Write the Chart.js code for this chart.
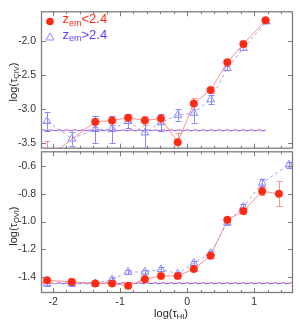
<!DOCTYPE html>
<html>
<head>
<meta charset="utf-8">
<script src="https://cdn.jsdelivr.net/npm/chart.js@4.4.1/dist/chart.umd.min.js"></script>
<style>
  html, body { margin: 0; padding: 0; background: #fff; }
  #wrap { position: relative; width: 300px; height: 327px; overflow: hidden; }
  #wrap canvas { position: absolute; left: 0; }
  #civChart { top: 0; }
  #oviChart { top: 140px; }
</style>
</head>
<body>
<div id="wrap">
  <canvas id="civChart" width="300" height="160"></canvas>
  <canvas id="oviChart" width="300" height="187"></canvas>
</div>
<script>
// tick labels
const xTicks = [-2, -1, 0, 1];
const civTicks = [-2.0, -2.5, -3.0, -3.5];
const oviTicks = [-0.6, -0.8, -1.0, -1.2, -1.4];

// top panel: log(tau_CIV) vs log(tau_HI)
const civLowX = [-2.09, -1.72, -1.37, -1.12, -0.88, -0.63, -0.39, -0.14, 0.10, 0.35, 0.60, 0.84, 1.17];
const civLowY = [-3.72, null, -3.19, -3.17, -3.13, -3.17, -3.14, -3.49, -2.92, -2.72, -2.31, -2.04, -1.69];
const civLowErr = [0.25, 0, 0.08, 0.06, 0.04, 0.06, 0.07, 0.14, 0.08, 0.04, 0.03, 0.03, 0.02];
const civHighX = [-2.4, -2.09, -1.72, -1.37, -1.12, -0.88, -0.63, -0.39, -0.14, 0.10, 0.35, 0.60, 0.84, 1.18];
const civHighY = [-3.33, -3.18, -3.44, -3.30, -3.30, -3.18, -3.35, -3.20, -3.09, -3.06, -2.86, -2.40, -2.10, -1.71];
const civHighErr = [0, 0.14, 0.10, 0.20, 0.20, 0.10, 0.22, 0.13, 0.09, 0.14, 0.07, 0.03, 0.03, 0.02];
const civRefX = [-2.18, 1.18];
const civLowRef = -3.31;
const civHighRef = -3.32;

// bottom panel: log(tau_OVI) vs log(tau_HI)
const oviLowX = [-2.09, -1.72, -1.37, -1.12, -0.88, -0.63, -0.39, -0.14, 0.10, 0.35, 0.60, 0.84, 1.12, 1.37];
const oviLowY = [-1.424, -1.436, -1.447, -1.447, -1.464, -1.416, -1.393, -1.393, -1.343, -1.247, -0.988, -0.924, -0.781, -0.800];
const oviLowErr = [0.01, 0.01, 0.01, 0.01, 0.01, 0.01, 0.012, 0.012, 0.015, 0.015, 0.015, 0.02, 0.03, 0.09];
const oviHighX = [-2.09, -1.72, -1.37, -1.12, -0.88, -0.63, -0.39, -0.14, 0.10, 0.35, 0.60, 0.84, 1.12, 1.52];
const oviHighY = [-1.447, -1.447, -1.447, -1.419, -1.364, -1.364, -1.345, -1.376, -1.300, -1.229, -1.007, -0.895, -0.721, -0.590];
const oviHighErr = [0.015, 0.015, 0.015, 0.015, 0.015, 0.015, 0.015, 0.015, 0.015, 0.015, 0.02, 0.02, 0.025, 0.02];
const oviRefX = [-2.18, 1.58];
const oviLowRef = -1.443;
const oviHighRef = -1.448;

const FONT = '"Liberation Sans", Arial, sans-serif';
const RED = "#ff2a14";
const RED_LINE = "#ff9090";
const BLUE = "#8a8aff";
const BLUE_LINE = "#a2a2ff";
const BLUE_TEXT = "#5b3cff";
const FRAME = "#7c7c7c";
const X_MIN = -2.18, X_MAX = 1.58;

function pts(xs, ys) {
  return xs.map((x, i) => ({ x: x, y: ys[i] }));
}

// text with subscript parts: [[text, isSub], ...]
function richWidth(ctx, parts, size, subSize) {
  let w = 0;
  parts.forEach(([t, sub]) => {
    ctx.font = `${sub ? subSize : size}px ${FONT}`;
    w += ctx.measureText(t).width;
  });
  return w;
}
function drawRich(ctx, parts, x, y, size, subSize, color) {
  ctx.fillStyle = color;
  ctx.textBaseline = "middle";
  ctx.textAlign = "left";
  parts.forEach(([t, sub]) => {
    ctx.font = `${sub ? subSize : size}px ${FONT}`;
    ctx.fillText(t, x, sub ? y + size * 0.3 : y);
    x += ctx.measureText(t).width;
  });
}

const panelPlugin = {
  id: "panel",
  beforeDatasetsDraw(chart) {
    const ctx = chart.ctx;
    const area = chart.chartArea;
    const xs = chart.scales.x, ys = chart.scales.y;
    ctx.save();
    ctx.beginPath();
    ctx.rect(area.left, area.top, area.right - area.left, area.bottom - area.top);
    ctx.clip();
    chart.data.datasets.forEach((ds) => {
      if (!ds.errors) return;
      ctx.strokeStyle = ds.errorColor;
      ctx.lineWidth = 1;
      ds.data.forEach((p, j) => {
        const e = ds.errors[j];
        if (p.y == null || !e) return;
        const px = Math.round(xs.getPixelForValue(p.x)) + 0.5;
        const y1 = ys.getPixelForValue(p.y - e);
        const y2 = ys.getPixelForValue(p.y + e);
        ctx.beginPath();
        ctx.moveTo(px, y1); ctx.lineTo(px, y2);
        ctx.moveTo(px - 3, Math.round(y1) + 0.5); ctx.lineTo(px + 3, Math.round(y1) + 0.5);
        ctx.moveTo(px - 3, Math.round(y2) + 0.5); ctx.lineTo(px + 3, Math.round(y2) + 0.5);
        ctx.stroke();
      });
    });
    ctx.restore();
  },
  afterDraw(chart, args, opts) {
    const ctx = chart.ctx;
    const a = chart.chartArea;
    const xs = chart.scales.x, ys = chart.scales.y;
    ctx.save();
    // frame
    ctx.strokeStyle = FRAME;
    ctx.lineWidth = 1.3;
    ctx.strokeRect(a.left + 0.5, a.top + 0.5, a.right - a.left - 1, a.bottom - a.top - 1);
    // inward ticks
    ctx.lineWidth = 1;
    ctx.beginPath();
    for (let v = -2.2; v <= 1.61; v += 0.2) {
      const px = Math.round(xs.getPixelForValue(v)) + 0.5;
      if (px <= a.left + 1 || px >= a.right - 1) continue;
      const major = Math.abs(v - Math.round(v)) < 0.01;
      const len = major ? 5 : 3;
      ctx.moveTo(px, a.top); ctx.lineTo(px, a.top + len);
      ctx.moveTo(px, a.bottom); ctx.lineTo(px, a.bottom - len);
    }
    opts.yTicks.forEach((v) => {
      const py = Math.round(ys.getPixelForValue(v)) + 0.5;
      ctx.moveTo(a.left, py); ctx.lineTo(a.left + 5, py);
      ctx.moveTo(a.right, py); ctx.lineTo(a.right - 5, py);
    });
    ctx.stroke();

    // y title
    const w = richWidth(ctx, opts.yTitle, 11, 7.5);
    ctx.translate(14, (a.top + a.bottom) / 2 + opts.yTitleShift);
    ctx.rotate(-Math.PI / 2);
    drawRich(ctx, opts.yTitle, -w / 2, 0, 11, 7.5, "#222");
    ctx.setTransform(1, 0, 0, 1, 0, 0);

    // x title
    if (opts.xTitle) {
      const wx = richWidth(ctx, opts.xTitle, 11, 7.5);
      drawRich(ctx, opts.xTitle, (a.left + a.right) / 2 + 4 - wx / 2, a.bottom + 21, 11, 7.5, "#222");
    }

    // legend
    if (opts.legend) {
      ctx.fillStyle = RED;
      ctx.beginPath();
      ctx.arc(50, 21.5, 3.8, 0, Math.PI * 2);
      ctx.fill();
      drawRich(ctx, [["z", false], ["em", true], ["<2.4", false]], 62.5, 19.5, 13, 9, RED);
      ctx.strokeStyle = BLUE;
      ctx.lineWidth = 1;
      ctx.beginPath();
      ctx.moveTo(50, 33); ctx.lineTo(54, 40); ctx.lineTo(46, 40); ctx.closePath();
      ctx.stroke();
      drawRich(ctx, [["z", false], ["em", true], [">2.4", false]], 62.5, 35, 13, 9, BLUE_TEXT);
    }
    ctx.restore();
  },
};

function seriesSets(lowX, lowY, lowErr, highX, highY, highErr, refX, lowRef, highRef) {
  return [
    {
      data: pts(lowX, lowY),
      errors: lowErr,
      errorColor: RED_LINE,
      showLine: true,
      spanGaps: true,
      borderColor: RED_LINE,
      borderWidth: 1,
      pointRadius: 3.8,
      pointHoverRadius: 3.8,
      pointBackgroundColor: RED,
      pointBorderColor: RED,
      pointBorderWidth: 0.5,
    },
    {
      data: pts(highX, highY),
      errors: highErr,
      errorColor: BLUE,
      showLine: true,
      spanGaps: true,
      borderColor: BLUE_LINE,
      borderWidth: 1,
      borderDash: [3, 3],
      pointStyle: "triangle",
      pointRadius: 4.5,
      pointHoverRadius: 4.5,
      pointBackgroundColor: "rgba(255,255,255,0)",
      pointBorderColor: BLUE,
      pointBorderWidth: 1,
    },
    {
      data: pts(refX, [lowRef, lowRef]),
      showLine: true,
      borderColor: "#d04a8c",
      borderWidth: 1,
      borderDash: [4, 4],
      pointRadius: 0,
    },
    {
      data: pts(refX, [highRef, highRef]),
      showLine: true,
      borderColor: "#6a5cff",
      borderWidth: 1,
      borderDash: [4, 4],
      borderDashOffset: 4,
      pointRadius: 0,
    },
  ];
}

function makeChart(id, cfg) {
  return new Chart(document.getElementById(id), {
    type: "scatter",
    data: { datasets: cfg.datasets },
    options: {
      responsive: false,
      animation: false,
      events: [],
      layout: { padding: cfg.padding },
      plugins: {
        legend: { display: false },
        tooltip: { enabled: false },
        panel: cfg.panel,
      },
      scales: {
        x: {
          type: "linear",
          min: X_MIN,
          max: X_MAX,
          display: cfg.showX,
          grid: { display: false, drawTicks: false },
          border: { display: false },
          ticks: {
            padding: 3,
            color: "#333",
            font: { family: FONT, size: 10.5 },
            callback: (v) => String(v),
          },
          afterBuildTicks: (s) => { s.ticks = xTicks.map((v) => ({ value: v })); },
          afterFit: (s) => { s.height = cfg.showX ? 34 : 0; },
        },
        y: {
          type: "linear",
          min: cfg.yMin,
          max: cfg.yMax,
          grid: { display: false, drawTicks: false },
          border: { display: false },
          ticks: {
            padding: 5,
            color: "#333",
            font: { family: FONT, size: 10.5 },
            callback: (v) => v.toFixed(1),
          },
          afterBuildTicks: (s) => { s.ticks = cfg.yTicks.map((v) => ({ value: v })); },
          afterFit: (s) => { s.width = 41; },
        },
      },
    },
    plugins: [panelPlugin],
  });
}

makeChart("civChart", {
  datasets: seriesSets(civLowX, civLowY, civLowErr, civHighX, civHighY, civHighErr, civRefX, civLowRef, civHighRef),
  padding: { top: 8, right: 7, bottom: 10, left: 0 },
  showX: false,
  yMin: -3.586,
  yMax: -1.557,
  yTicks: civTicks,
  panel: {
    yTicks: civTicks,
    yTitle: [["log(τ", false], ["CIV", true], [")", false]],
    yTitleShift: 2,
    legend: true,
  },
});

makeChart("oviChart", {
  datasets: seriesSets(oviLowX, oviLowY, oviLowErr, oviHighX, oviHighY, oviHighErr, oviRefX, oviLowRef, oviHighRef),
  padding: { top: 10, right: 7, bottom: 0, left: 0 },
  showX: true,
  yMin: -1.516,
  yMax: -0.493,
  yTicks: oviTicks,
  panel: {
    yTicks: oviTicks,
    yTitle: [["log(τ", false], ["OVI", true], [")", false]],
    yTitleShift: 4,
    xTitle: [["log(τ", false], ["HI", true], [")", false]],
    legend: false,
  },
});
</script>
</body>
</html>
